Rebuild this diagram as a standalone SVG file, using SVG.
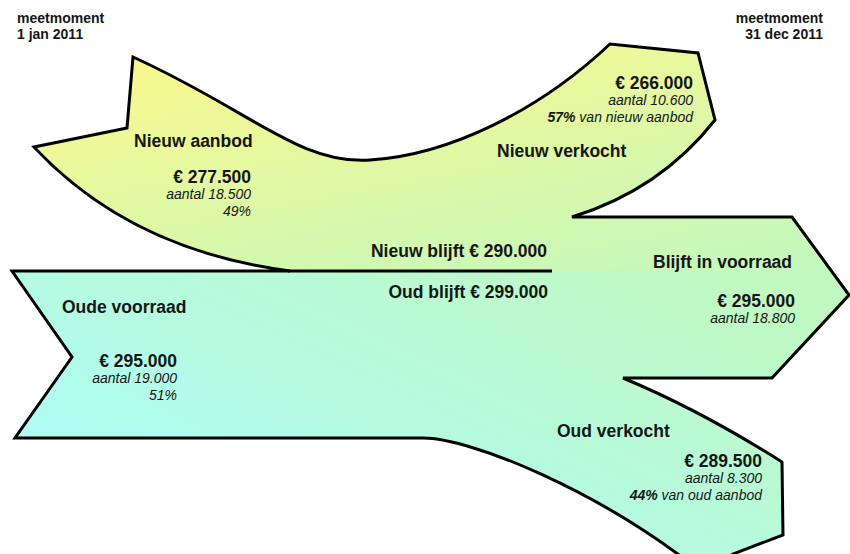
<svg xmlns="http://www.w3.org/2000/svg" width="850" height="554" viewBox="0 0 850 554">
<style>
text{font-family:"Liberation Sans",Arial,sans-serif;fill:#161616}
.h{font-size:14px;font-weight:bold}
.l{font-size:17.5px;font-weight:bold}
.i{font-size:14px;font-style:italic}
.r{text-anchor:end}
.outline{fill:none;stroke:#000;stroke-width:3;stroke-linejoin:miter}
</style>
<defs>
<linearGradient id="gy" gradientUnits="userSpaceOnUse" x1="130" y1="70" x2="193" y2="401">
<stop offset="0" stop-color="#f8f890"/><stop offset="1" stop-color="#c0f8c0"/>
</linearGradient>
<linearGradient id="gb" gradientUnits="userSpaceOnUse" x1="80" y1="420" x2="253" y2="49">
<stop offset="0" stop-color="#b0fcf0"/><stop offset="1" stop-color="#c0f8c0"/>
</linearGradient>
<clipPath id="ctop"><rect x="0" y="0" width="850" height="271"/></clipPath>
<clipPath id="cbot"><rect x="0" y="271" width="850" height="300"/></clipPath>
<path id="shape" d="M34,147 Q130,250 290,271 L12,271 L72,357 L15,438 L423,438 C470,438 600,490 705,575 L733,554 L783,535 L782,462 Q700,410 623,378 L772,378 L849,295 L792,217 L572,217 Q660,190 715,120 L698,53 L610,44 C540,110 450,155 370,160 C300,165 250,110 133,57 L127,128 Z"/>
</defs>

<g id="flow">
<use href="#shape" fill="url(#gy)" clip-path="url(#ctop)"/>
<use href="#shape" fill="url(#gb)" clip-path="url(#cbot)"/>
<use href="#shape" class="outline"/>
</g>

<g id="connectors">
<line x1="288" y1="271" x2="552" y2="271" stroke="#000" stroke-width="3"/>
</g>

<g id="meetmoment-start">
<text class="h" x="17" y="23">meetmoment</text>
<text class="h" x="17" y="39">1 jan 2011</text>
</g>
<g id="meetmoment-end">
<text class="h r" x="823" y="23">meetmoment</text>
<text class="h r" x="823" y="39">31 dec 2011</text>
</g>

<g id="nieuw-aanbod">
<text class="l" x="134" y="147">Nieuw aanbod</text>
<text class="l r" x="251" y="183">€ 277.500</text>
<text class="i r" x="251" y="199">aantal 18.500</text>
<text class="i r" x="251" y="216">49%</text>
</g>

<g id="nieuw-verkocht">
<text class="l" x="497" y="157">Nieuw verkocht</text>
<text class="l r" x="693" y="89">€ 266.000</text>
<text class="i r" x="693" y="105">aantal 10.600</text>
<text class="i r" x="693" y="122"><tspan font-weight="bold">57%</tspan> van nieuw aanbod</text>
</g>

<g id="nieuw-blijft">
<text class="l r" x="547" y="257">Nieuw blijft € 290.000</text>
</g>
<g id="oud-blijft">
<text class="l r" x="548" y="298">Oud blijft € 299.000</text>
</g>

<g id="blijft-in-voorraad">
<text class="l" x="653" y="268">Blijft in voorraad</text>
<text class="l r" x="795" y="307">€ 295.000</text>
<text class="i r" x="795" y="323">aantal 18.800</text>
</g>

<g id="oude-voorraad">
<text class="l" x="62" y="313">Oude voorraad</text>
<text class="l r" x="177" y="367">€ 295.000</text>
<text class="i r" x="177" y="383">aantal 19.000</text>
<text class="i r" x="177" y="400">51%</text>
</g>

<g id="oud-verkocht">
<text class="l" x="557" y="437">Oud verkocht</text>
<text class="l r" x="762" y="467">€ 289.500</text>
<text class="i r" x="762" y="483">aantal 8.300</text>
<text class="i r" x="762" y="500"><tspan font-weight="bold">44%</tspan> van oud aanbod</text>
</g>
</svg>
